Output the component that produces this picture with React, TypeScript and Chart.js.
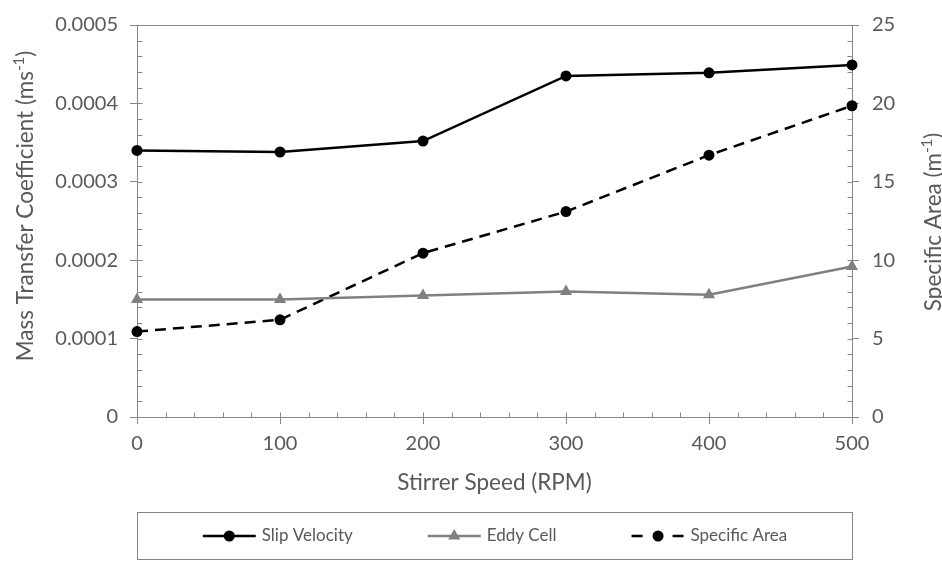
import React, { useEffect, useRef } from 'react';
import { Chart, registerables } from 'chart.js';

Chart.register(...registerables);

// ---- data ----
const stirrerSpeeds = [0, 100, 200, 300, 400, 500];
const slipVelocity = [0.00034, 0.000338, 0.000352, 0.000435, 0.000439, 0.000449];
const eddyCell = [0.00015, 0.00015, 0.000155, 0.00016, 0.000156, 0.000192];
const specificArea = [5.45, 6.2, 10.45, 13.1, 16.7, 19.85];
const seriesNames = ['Slip Velocity', 'Eddy Cell', 'Specific Area'];
const xTitle = 'Stirrer Speed (RPM)';
const leftTitleParts = ['Mass Transfer Coefficient (ms', '-1', ')'];
const rightTitleParts = ['Specific Area (m', '-1', ')'];

// ---- style ----
const FAMILY = 'Lato, "Open Sans", sans-serif';
const AXIS = '#868686';
const TEXT = '#595959';
const GREY_SERIES = '#808080';
const TITLE_SIZE = 22.5;

function drawRotatedTitle(ctx: CanvasRenderingContext2D, parts: string[], baselineX: number, cy: number) {
  ctx.save();
  ctx.translate(baselineX, cy);
  ctx.rotate(-Math.PI / 2);
  const mainFont = `${TITLE_SIZE}px ${FAMILY}`;
  const supFont = `${Math.round(TITLE_SIZE * 0.65)}px ${FAMILY}`;
  ctx.font = mainFont;
  const w0 = ctx.measureText(parts[0]).width;
  const w2 = ctx.measureText(parts[2]).width;
  ctx.font = supFont;
  const w1 = ctx.measureText(parts[1]).width;
  let x = -(w0 + w1 + w2) / 2;
  ctx.fillStyle = TEXT;
  ctx.textAlign = 'left';
  ctx.textBaseline = 'alphabetic';
  ctx.font = mainFont;
  ctx.fillText(parts[0], x, 0);
  x += w0;
  ctx.font = supFont;
  ctx.fillText(parts[1], x, -9);
  x += w1;
  ctx.font = mainFont;
  ctx.fillText(parts[2], x, 0);
  ctx.restore();
}

const decorPlugin = {
  id: 'decor',
  beforeDatasetsDraw(chart: any) {
    const { ctx, chartArea: ca, scales } = chart;
    const xs = scales.x, ys = scales.y, y1s = scales.y1;
    ctx.save();
    ctx.strokeStyle = AXIS;
    ctx.lineWidth = 1;
    ctx.beginPath();
    const bottom = Math.round(ca.bottom) + 0.5;
    const left = Math.round(ca.left) + 0.5;
    const right = Math.round(ca.right) + 0.5;
    for (let i = 0; i <= 25; i++) {
      const px = Math.round(xs.getPixelForValue(i * 20)) + 0.5;
      ctx.moveTo(px, bottom);
      ctx.lineTo(px, bottom - 5);
    }
    for (let i = 0; i <= 25; i++) {
      const py = Math.round(ys.getPixelForValue(i * 0.00002)) + 0.5;
      ctx.moveTo(left, py);
      ctx.lineTo(left + 5, py);
    }
    for (let i = 0; i <= 25; i++) {
      const py = Math.round(y1s.getPixelForValue(i)) + 0.5;
      ctx.moveTo(right, py);
      ctx.lineTo(right - 5, py);
    }
    ctx.stroke();
    ctx.restore();
  },
  afterDraw(chart: any) {
    const { ctx, chartArea: ca } = chart;
    drawRotatedTitle(ctx, leftTitleParts, 33, 206);
    drawRotatedTitle(ctx, rightTitleParts, 941, 222);

    // legend box
    const boxTop = Math.round(chart.scales.x.bottom) + 0.5;
    const boxBottom = chart.height - 1.5;
    const boxLeft = Math.round(ca.left) + 0.5;
    const boxRight = Math.round(ca.right) + 0.5;
    ctx.save();
    ctx.strokeStyle = AXIS;
    ctx.lineWidth = 1;
    ctx.strokeRect(boxLeft, boxTop, boxRight - boxLeft, boxBottom - boxTop);

    const symW = 53, gapSym = 6, gapItem = 75;
    const legendFont = `17px ${FAMILY}`;
    ctx.font = legendFont;
    const datasets = chart.data.datasets;
    const widths = datasets.map((d: any) => symW + gapSym + ctx.measureText(d.label).width);
    const total = widths.reduce((a: number, b: number) => a + b, 0) + gapItem * (datasets.length - 1);
    let sx = (boxLeft + boxRight) / 2 - total / 2;
    const cy = (boxTop + boxBottom) / 2;
    datasets.forEach((d: any, i: number) => {
      ctx.save();
      ctx.strokeStyle = d.borderColor;
      ctx.lineWidth = d.borderWidth;
      if (d.borderDash && d.borderDash.length) ctx.setLineDash([11, 30]);
      ctx.beginPath();
      ctx.moveTo(sx, cy);
      ctx.lineTo(sx + symW, cy);
      ctx.stroke();
      ctx.setLineDash([]);
      ctx.fillStyle = d.pointBackgroundColor;
      ctx.beginPath();
      const mx = sx + symW / 2;
      if (d.pointStyle === 'triangle') {
        const r = d.pointRadius;
        ctx.moveTo(mx, cy - r);
        ctx.lineTo(mx + r * 0.866, cy + r * 0.5);
        ctx.lineTo(mx - r * 0.866, cy + r * 0.5);
        ctx.closePath();
      } else {
        ctx.arc(mx, cy, d.pointRadius, 0, Math.PI * 2);
      }
      ctx.fill();
      ctx.restore();
      ctx.fillStyle = TEXT;
      ctx.textAlign = 'left';
      ctx.textBaseline = 'middle';
      ctx.font = legendFont;
      ctx.fillText(d.label, sx + symW + gapSym, cy);
      sx += widths[i] + gapItem;
    });
    ctx.restore();
  },
};

export default function App() {
  const ref = useRef<HTMLCanvasElement>(null);
  useEffect(() => {
    const canvas = ref.current!;
    const tickFont = { family: FAMILY, size: 20 };
    const titleFont = { family: FAMILY, size: TITLE_SIZE };
    const chart = new Chart(canvas, {
      type: 'line',
      data: {
        datasets: [
          {
            label: seriesNames[0],
            data: stirrerSpeeds.map((x, i) => ({ x, y: slipVelocity[i] })),
            yAxisID: 'y',
            borderColor: '#000000',
            backgroundColor: '#000000',
            borderWidth: 2.5,
            pointStyle: 'circle',
            pointRadius: 5.5,
            pointBackgroundColor: '#000000',
            pointBorderColor: '#000000',
            pointBorderWidth: 0,
            clip: false,
          },
          {
            label: seriesNames[1],
            data: stirrerSpeeds.map((x, i) => ({ x, y: eddyCell[i] })),
            yAxisID: 'y',
            borderColor: GREY_SERIES,
            backgroundColor: GREY_SERIES,
            borderWidth: 2.5,
            pointStyle: 'triangle',
            pointRadius: 7,
            pointBackgroundColor: GREY_SERIES,
            pointBorderColor: GREY_SERIES,
            pointBorderWidth: 0,
            clip: false,
          },
          {
            label: seriesNames[2],
            data: stirrerSpeeds.map((x, i) => ({ x, y: specificArea[i] })),
            yAxisID: 'y1',
            borderColor: '#000000',
            backgroundColor: '#000000',
            borderWidth: 2.5,
            borderDash: [11, 7],
            pointStyle: 'circle',
            pointRadius: 5.5,
            pointBackgroundColor: '#000000',
            pointBorderColor: '#000000',
            pointBorderWidth: 0,
            clip: false,
          },
        ],
      },
      options: {
        responsive: false,
        animation: false,
        layout: { padding: { top: 17, left: 0, right: 0, bottom: 49 } },
        plugins: { legend: { display: false }, tooltip: { enabled: false } },
        scales: {
          x: {
            type: 'linear',
            min: 0,
            max: 500,
            ticks: { stepSize: 100, color: TEXT, font: tickFont, padding: 8, maxRotation: 0 },
            grid: { drawOnChartArea: false, color: AXIS, tickColor: AXIS, tickLength: 7 },
            border: { color: AXIS, width: 1 },
            title: { display: true, text: xTitle, color: TEXT, font: titleFont, padding: { top: 0, bottom: 16 } },
            afterFit: (s: any) => { s.height = 95; },
          },
          y: {
            type: 'linear',
            position: 'left',
            min: 0,
            max: 0.0005,
            ticks: {
              stepSize: 0.0001,
              color: TEXT,
              font: tickFont,
              padding: 12,
              callback: (v: any) => (Number(v) === 0 ? '0' : Number(v).toFixed(4)),
            },
            grid: {
              color: (c: any) => (c.tick && Math.abs(c.tick.value - 0.0005) < 1e-9 ? AXIS : 'rgba(0,0,0,0)'),
              tickColor: AXIS,
              tickLength: 7,
            },
            border: { color: AXIS, width: 1 },
            afterFit: (s: any) => { s.width = 137; },
          },
          y1: {
            type: 'linear',
            position: 'right',
            min: 0,
            max: 25,
            ticks: { stepSize: 5, color: TEXT, font: tickFont, padding: 13 },
            grid: { drawOnChartArea: false, color: AXIS, tickColor: AXIS, tickLength: 7 },
            border: { color: AXIS, width: 1 },
            afterFit: (s: any) => { s.width = 90; },
          },
        },
      },
      plugins: [decorPlugin],
    } as any);
    return () => chart.destroy();
  }, []);

  return (
    <div style={{ position: 'fixed', left: 0, top: 0, width: 942, height: 561, background: '#ffffff' }}>
      <canvas ref={ref} width={942} height={561} style={{ display: 'block', width: 942, height: 561 }} />
    </div>
  );
}
